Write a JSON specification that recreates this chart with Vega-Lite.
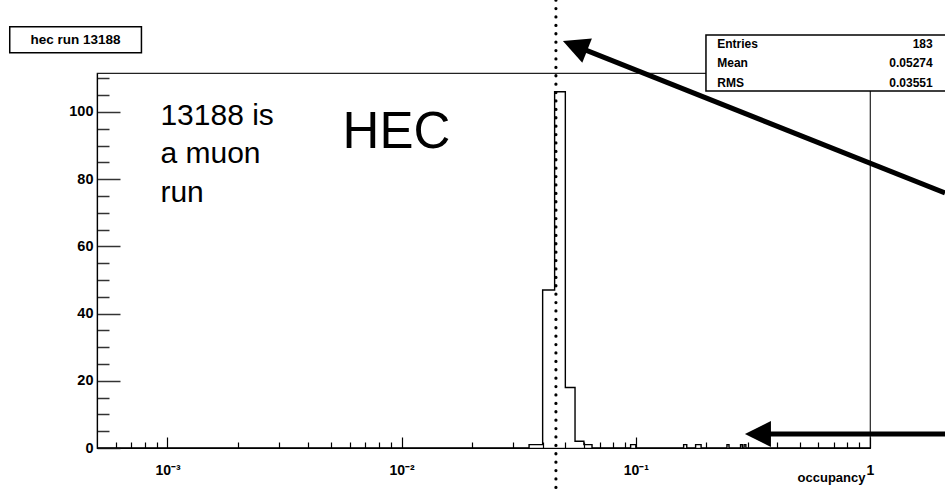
{
  "$schema": "https://vega.github.io/schema/vega-lite/v6.json",
  "width": 773,
  "height": 375,
  "autosize": "none",
  "padding": {"left": 97, "top": 73, "right": 75, "bottom": 41},
  "background": "white",
  "config": {
    "view": {"stroke": "#222", "strokeWidth": 1.2},
    "font": "Liberation Sans Narrow, Liberation Sans, sans-serif",
    "axis": {"grid": false}
  },
  "resolve": {"scale": {"x": "independent", "y": "independent"}, "axis": {"x": "independent", "y": "independent"}},
  "datasets": {
    "hist": [
      {"edge": 0.0005, "count": 0},
      {"edge": 0.035, "count": 1},
      {"edge": 0.04, "count": 47},
      {"edge": 0.045, "count": 106},
      {"edge": 0.05, "count": 18},
      {"edge": 0.055, "count": 2},
      {"edge": 0.06, "count": 1},
      {"edge": 0.065, "count": 0},
      {"edge": 0.095, "count": 1},
      {"edge": 0.1, "count": 0},
      {"edge": 0.16, "count": 1},
      {"edge": 0.165, "count": 0},
      {"edge": 0.18, "count": 1},
      {"edge": 0.185, "count": 1},
      {"edge": 0.19, "count": 0},
      {"edge": 0.245, "count": 1},
      {"edge": 0.25, "count": 0},
      {"edge": 0.28, "count": 1},
      {"edge": 0.285, "count": 0},
      {"edge": 0.29, "count": 1},
      {"edge": 0.295, "count": 0},
      {"edge": 1, "count": 0}
    ]
  },
  "layer": [
    {
      "data": {"name": "hist"},
      "mark": {"type": "line", "interpolate": "step-after", "color": "black", "strokeWidth": 1.4},
      "encoding": {
        "x": {
          "field": "edge", "type": "quantitative",
          "scale": {"type": "log", "domain": [0.0005, 1], "nice": false},
          "title": "occupancy",
          "axis": {
            "values": [0.0006,0.0007,0.0008,0.0009,0.001,0.002,0.003,0.004,0.005,0.006,0.007,0.008,0.009,0.01,0.02,0.03,0.04,0.05,0.06,0.07,0.08,0.09,0.1,0.2,0.3,0.4,0.5,0.6,0.7,0.8,0.9,1],
            "labelExpr": "datum.value == 0.001 ? '10⁻³' : datum.value == 0.01 ? '10⁻²' : datum.value == 0.1 ? '10⁻¹' : datum.value == 1 ? '1' : ''",
            "tickSize": {"condition": {"test": "indexof([0.001,0.01,0.1,1], datum.value) >= 0", "value": -11}, "value": -6},
            "labelPadding": 37,
            "labelBaseline": "alphabetic",
            "labelFontSize": 14,
            "labelFontWeight": "bold",
            "labelColor": "black",
            "labelOverlap": false,
            "labelFlush": false,
            "labelBound": false,
            "tickColor": "black",
            "tickWidth": 1.2,
            "domainColor": "black",
            "domainWidth": 1.2,
            "grid": false,
            "orient": "bottom",
            "titleX": 768,
            "titleY": 33,
            "titleAlign": "right",
            "titleBaseline": "alphabetic",
            "titleFontSize": 13,
            "titleFontWeight": "bold",
            "titleColor": "black"
          }
        },
        "y": {
          "field": "count", "type": "quantitative",
          "scale": {"domain": [0, 111.6], "nice": false},
          "title": null,
          "axis": {
            "orient": "left",
            "values": [0,5,10,15,20,25,30,35,40,45,50,55,60,65,70,75,80,85,90,95,100,105,110],
            "labelExpr": "datum.value % 20 == 0 ? datum.label : ''",
            "tickSize": {"condition": {"test": "datum.value % 20 == 0", "value": -23}, "value": -12},
            "labelPadding": 27,
            "labelFontSize": 14.5,
            "labelFontWeight": "bold",
            "labelColor": "black",
            "labelOverlap": false,
            "labelBound": false,
            "labelFlush": false,
            "tickColor": "#333",
            "tickWidth": 1.5,
            "domainColor": "black",
            "domainWidth": 1.2,
            "grid": false
          }
        }
      }
    },
    {
      "data": {"values": [{}]},
      "mark": {"type": "rect", "fill": "white", "stroke": "black", "strokeWidth": 1.5, "clip": false},
      "encoding": {
        "x": {"datum": 0.000212, "type": "quantitative", "scale": {"type": "log", "domain": [0.0005, 1], "nice": false}, "axis": null},
        "x2": {"datum": 0.000774},
        "y": {"datum": 125.4, "type": "quantitative", "scale": {"domain": [0, 111.6], "nice": false}, "axis": null},
        "y2": {"datum": 117.6}
      }
    },
    {
      "data": {"values": [{}]},
      "mark": {"type": "text", "text": "hec run 13188", "align": "center", "baseline": "middle", "fontSize": 13.5, "fontWeight": "bold", "color": "black", "clip": false},
      "encoding": {
        "x": {"datum": 0.000405, "type": "quantitative", "scale": {"type": "log", "domain": [0.0005, 1], "nice": false}, "axis": null},
        "y": {"datum": 121.5, "type": "quantitative", "scale": {"domain": [0, 111.6], "nice": false}, "axis": null}
      }
    },
    {
      "data": {"values": [{}]},
      "mark": {"type": "rule", "color": "black", "strokeWidth": 3.2, "strokeCap": "round", "strokeDash": [0.1, 8.3], "clip": false},
      "encoding": {
        "x": {"datum": 0.04558, "type": "quantitative", "scale": {"type": "log", "domain": [0.0005, 1], "nice": false}, "axis": null},
        "y": {"datum": 133.3, "type": "quantitative", "scale": {"domain": [0, 111.6], "nice": false}, "axis": null},
        "y2": {"datum": -12.2}
      }
    },
    {
      "data": {"values": [{}]},
      "mark": {"type": "rect", "fill": "white", "stroke": "black", "strokeWidth": 1.5, "clip": false},
      "encoding": {
        "x": {"datum": 0.1993, "type": "quantitative", "scale": {"type": "log", "domain": [0.0005, 1], "nice": false}, "axis": null},
        "x2": {"datum": 2.197},
        "y": {"datum": 122.9, "type": "quantitative", "scale": {"domain": [0, 111.6], "nice": false}, "axis": null},
        "y2": {"datum": 106.25}
      }
    },
    {
      "data": {"values": [{}]},
      "mark": {"type": "text", "text": ["Entries", "Mean", "RMS"], "lineHeight": 19.2, "align": "left", "baseline": "alphabetic", "fontSize": 12, "fontWeight": "bold", "color": "black", "clip": false},
      "encoding": {
        "x": {"datum": 0.2227, "type": "quantitative", "scale": {"type": "log", "domain": [0.0005, 1], "nice": false}, "axis": null},
        "y": {"datum": 118.96, "type": "quantitative", "scale": {"domain": [0, 111.6], "nice": false}, "axis": null}
      }
    },
    {
      "data": {"values": [{}]},
      "mark": {"type": "text", "text": ["183", "0.05274", "0.03551"], "lineHeight": 19.2, "align": "right", "baseline": "alphabetic", "fontSize": 12, "fontWeight": "bold", "color": "black", "clip": false},
      "encoding": {
        "x": {"datum": 1.853, "type": "quantitative", "scale": {"type": "log", "domain": [0.0005, 1], "nice": false}, "axis": null},
        "y": {"datum": 118.96, "type": "quantitative", "scale": {"domain": [0, 111.6], "nice": false}, "axis": null}
      }
    },
    {
      "data": {"values": [{}]},
      "mark": {"type": "text", "text": ["13188 is", "a muon", "run"], "lineHeight": 38.4, "align": "left", "baseline": "alphabetic", "font": "Liberation Sans, Arial, sans-serif", "fontSize": 30, "color": "black", "clip": false},
      "encoding": {
        "x": {"datum": 0.000933, "type": "quantitative", "scale": {"type": "log", "domain": [0.0005, 1], "nice": false}, "axis": null},
        "y": {"datum": 96.1, "type": "quantitative", "scale": {"domain": [0, 111.6], "nice": false}, "axis": null}
      }
    },
    {
      "data": {"values": [{}]},
      "mark": {"type": "text", "text": "HEC", "align": "left", "baseline": "alphabetic", "font": "Liberation Sans, Arial, sans-serif", "fontSize": 51, "color": "black", "clip": false},
      "encoding": {
        "x": {"datum": 0.005593, "type": "quantitative", "scale": {"type": "log", "domain": [0.0005, 1], "nice": false}, "axis": null},
        "y": {"datum": 89.2, "type": "quantitative", "scale": {"domain": [0, 111.6], "nice": false}, "axis": null}
      }
    },
    {
      "data": {"values": [{}]},
      "mark": {"type": "rule", "color": "black", "strokeWidth": 5, "clip": false},
      "encoding": {
        "x": {"datum": 2.091, "type": "quantitative", "scale": {"type": "log", "domain": [0.0005, 1], "nice": false}, "axis": null},
        "y": {"datum": 75.9, "type": "quantitative", "scale": {"domain": [0, 111.6], "nice": false}, "axis": null},
        "x2": {"datum": 0.05966},
        "y2": {"datum": 118.7}
      }
    },
    {
      "data": {"values": [{}]},
      "mark": {"type": "point", "shape": "M0,0L0.5,1L-0.5,1Z", "filled": true, "color": "black", "opacity": 1, "size": 2704, "angle": 291.7, "clip": false},
      "encoding": {
        "x": {"datum": 0.04883, "type": "quantitative", "scale": {"type": "log", "domain": [0.0005, 1], "nice": false}, "axis": null},
        "y": {"datum": 121.1, "type": "quantitative", "scale": {"domain": [0, 111.6], "nice": false}, "axis": null}
      }
    },
    {
      "data": {"values": [{}]},
      "mark": {"type": "rule", "color": "black", "strokeWidth": 5, "clip": false},
      "encoding": {
        "x": {"datum": 2.197, "type": "quantitative", "scale": {"type": "log", "domain": [0.0005, 1], "nice": false}, "axis": null},
        "x2": {"datum": 0.3558},
        "y": {"datum": 4.17, "type": "quantitative", "scale": {"domain": [0, 111.6], "nice": false}, "axis": null}
      }
    },
    {
      "data": {"values": [{}]},
      "mark": {"type": "point", "shape": "M0,0L0.5,1L-0.5,1Z", "filled": true, "color": "black", "opacity": 1, "size": 2704, "angle": 270, "clip": false},
      "encoding": {
        "x": {"datum": 0.2924, "type": "quantitative", "scale": {"type": "log", "domain": [0.0005, 1], "nice": false}, "axis": null},
        "y": {"datum": 4.17, "type": "quantitative", "scale": {"domain": [0, 111.6], "nice": false}, "axis": null}
      }
    }
  ]
}
